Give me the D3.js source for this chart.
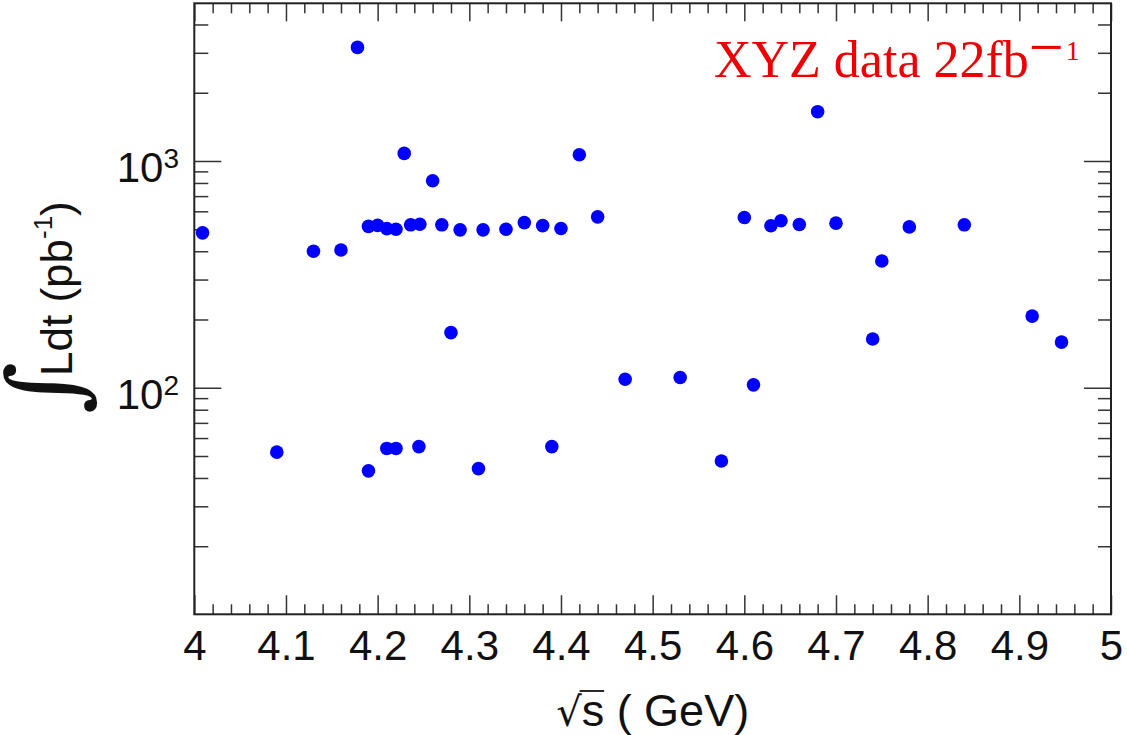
<!DOCTYPE html>
<html>
<head>
<meta charset="utf-8">
<script src="https://cdn.jsdelivr.net/npm/d3@7"></script>
<style>
body { margin: 0; background: #fff; }
</style>
</head>
<body>
<svg id="chart" width="1127" height="735"></svg>
<script>
// centre-of-mass energies (GeV) and integrated luminosity (pb^-1)
var energies = [4.009, 4.090, 4.130, 4.160, 4.178, 4.190, 4.190, 4.200, 4.210, 4.210,
                4.220, 4.220, 4.229, 4.236, 4.245, 4.246, 4.260, 4.270, 4.280, 4.290,
                4.310, 4.315, 4.340, 4.360, 4.380, 4.390, 4.400, 4.420, 4.440, 4.470,
                4.530, 4.575, 4.600, 4.610, 4.629, 4.640, 4.660, 4.680, 4.700, 4.740,
                4.750, 4.780, 4.840, 4.914, 4.946];
var lumis    = [482, 52, 400, 405, 3170, 43, 515, 520, 503, 54,
                500, 54, 1080, 523, 55, 526, 818, 523, 175, 497,
                44, 497, 500, 535, 519, 55, 504, 1066, 567, 109,
                111, 47.5, 563, 103, 518, 545, 525, 1650, 532, 164,
                362, 512, 523, 207, 159];

var xTickLabels = ["4", "4.1", "4.2", "4.3", "4.4", "4.5", "4.6", "4.7", "4.8", "4.9", "5"];
var yTickValues = [100, 1000];
var yTickExps = ["2", "3"];

var sansFont = "'Liberation Sans', Arial, sans-serif";
var serifFont = "'Liberation Serif', 'Times New Roman', serif";

var svg = d3.select("#chart");

var frameL = 194.3, frameR = 1111, frameT = 3.3, frameB = 614.3;

var x = d3.scaleLinear().domain([4, 5]).range([frameL, frameR]);
var y = d3.scaleLog().domain([10, 5000]).range([614.5, 2.5]);

var xMajor = xTickLabels.map(Number);
var xMinor = d3.range(4, 5.0001, 0.02).filter(function (d) {
    return Math.abs(d * 10 - Math.round(d * 10)) > 1e-6;
});
var yMinor = [];
[10, 100, 1000].forEach(function (dec) {
    for (var m = 2; m <= 9; m++) {
        if (dec * m < 5000) yMinor.push(dec * m);
    }
});

function styleAxis(g) {
    g.select(".domain").remove();
    g.selectAll(".tick line").attr("stroke", "#333").attr("stroke-width", 1.5);
}

function addAxis(axis, tx, ty) {
    return svg.append("g")
        .attr("transform", "translate(" + tx + "," + ty + ")")
        .call(axis)
        .call(styleAxis);
}

// bottom
addAxis(d3.axisBottom(x).tickValues(xMinor).tickSize(-10).tickSizeOuter(0).tickFormat(""), 0, frameB);
var xAxis = addAxis(d3.axisBottom(x).tickValues(xMajor).tickSize(-19).tickSizeOuter(0).tickPadding(16)
    .tickFormat(function (d, i) { return xTickLabels[i]; }), 0, frameB);
xAxis.attr("font-size", null).attr("font-family", null);
xAxis.selectAll("text")
    .style("font-family", sansFont)
    .style("font-size", "42px")
    .attr("fill", "#111");

// top
addAxis(d3.axisTop(x).tickValues(xMinor).tickSize(-10).tickSizeOuter(0).tickFormat(""), 0, frameT);
addAxis(d3.axisTop(x).tickValues(xMajor).tickSize(-18).tickSizeOuter(0).tickFormat(""), 0, frameT);

// left
addAxis(d3.axisLeft(y).tickValues(yMinor).tickSize(-14).tickSizeOuter(0).tickFormat(""), frameL, 0);
addAxis(d3.axisLeft(y).tickValues(yTickValues).tickSize(-27).tickSizeOuter(0).tickFormat(""), frameL, 0);

// right
addAxis(d3.axisRight(y).tickValues(yMinor).tickSize(-13).tickSizeOuter(0).tickFormat(""), frameR, 0);
addAxis(d3.axisRight(y).tickValues(yTickValues).tickSize(-27).tickSizeOuter(0).tickFormat(""), frameR, 0);

// frame
svg.append("rect")
    .attr("x", frameL).attr("y", frameT)
    .attr("width", frameR - frameL).attr("height", frameB - frameT)
    .attr("fill", "none")
    .attr("stroke", "#222")
    .attr("stroke-width", 2);

// y tick labels 10^n
yTickValues.forEach(function (v, i) {
    var t = svg.append("text")
        .attr("x", 179)
        .attr("y", y(v) + 21)
        .attr("text-anchor", "end")
        .style("font-family", sansFont)
        .style("font-size", "42px")
        .attr("fill", "#111");
    t.append("tspan").text("10");
    t.append("tspan").style("font-size", "28px").attr("dy", -14).text(yTickExps[i]);
});

// points
svg.append("g")
    .selectAll("circle")
    .data(energies)
    .enter()
    .append("circle")
    .attr("cx", function (d) { return x(d); })
    .attr("cy", function (d, i) { return y(lumis[i]); })
    .attr("r", 6.8)
    .attr("fill", "#0000ff");

// x title: sqrt(s) (GeV)
var xt = svg.append("text")
    .attr("x", (frameL + frameR) / 2)
    .attr("y", 726)
    .attr("text-anchor", "middle")
    .style("font-family", sansFont)
    .style("font-size", "45px")
    .attr("fill", "#111")
    .attr("xml:space", "preserve");
xt.append("tspan").style("font-family", "'DejaVu Sans'").style("font-size", "40px").text("\u221A");
var sSpan = xt.append("tspan").text("s");
xt.append("tspan").text(" ( GeV)");
var sBox = sSpan.node().getBBox();
svg.append("line")
    .attr("x1", sBox.x - 2).attr("x2", sBox.x + sBox.width)
    .attr("y1", sBox.y + 6).attr("y2", sBox.y + 6)
    .attr("stroke", "#111").attr("stroke-width", 1.8);

// y title: integral Ldt (pb^-1)
svg.append("text")
    .attr("transform", "translate(79,388) rotate(-90)")
    .attr("text-anchor", "middle")
    .style("font-family", "'DejaVu Serif'")
    .style("font-size", "100px")
    .attr("fill", "#111")
    .text("\u222B");
var yt = svg.append("text")
    .attr("transform", "translate(72,376) rotate(-90)")
    .style("font-family", sansFont)
    .style("font-size", "44px")
    .attr("fill", "#111");
yt.append("tspan").text("Ldt (pb");
yt.append("tspan").style("font-size", "26px").attr("dy", -20).text("-1");
yt.append("tspan").attr("dy", 20).text(")");

// data label
var lab = svg.append("text")
    .attr("x", 714)
    .attr("y", 76.7)
    .style("font-family", serifFont)
    .style("font-size", "52px")
    .attr("fill", "#ee0000");
lab.append("tspan").text("XYZ data 22fb");
lab.append("tspan").style("font-size", "62px").attr("dy", -9).text("\u2212");
lab.append("tspan").style("font-size", "28px").attr("dx", 2).attr("dy", -8).text("1");
</script>
</body>
</html>
